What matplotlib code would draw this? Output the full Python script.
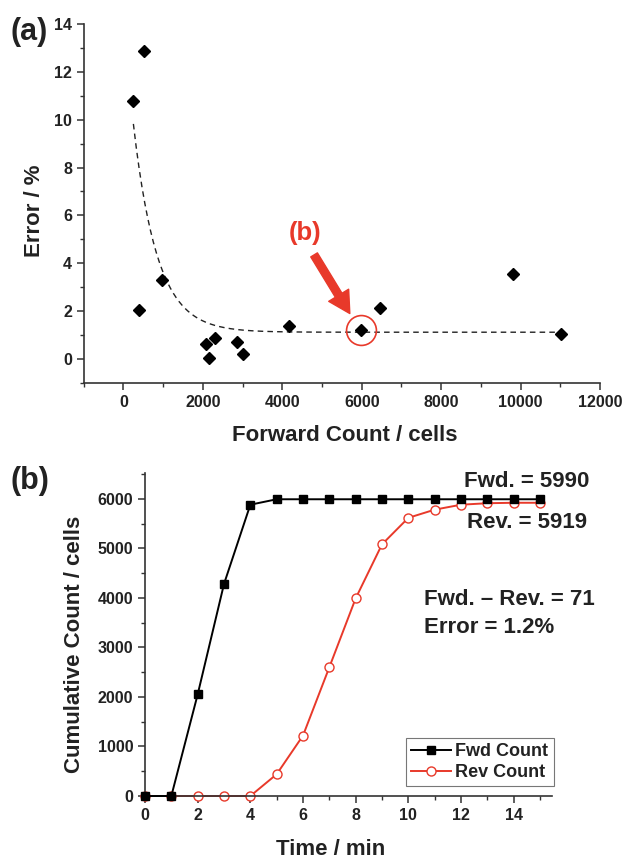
import matplotlib
matplotlib.use("Agg")
import matplotlib.pyplot as plt
import numpy as np
from matplotlib.ticker import MultipleLocator

plt.rcParams['font.family'] = ['Liberation Sans', 'DejaVu Sans']
plt.rcParams['font.weight'] = 'bold'

# (a) error vs forward count
fwd_cells = [250, 520, 400, 980, 2070, 2160, 2300, 2850, 3010, 4160, 5990, 6470, 9800, 11020]
error_pct = [10.8, 12.85, 2.05, 3.3, 0.62, 0.05, 0.88, 0.7, 0.2, 1.4, 1.2, 2.15, 3.55, 1.05]
highlight = 10  # the run shown in (b)

# exponential decay fit y = y0 + A*exp(-x/t)
fit_y0, fit_A, fit_t = 1.12, 13.2, 600.0
fit_xmin, fit_xmax = 250, 11000

# (b) cumulative counts
time_min = list(range(16))
fwd_count = [0, 0, 2050, 4280, 5880, 5990, 5990, 5990, 5990, 5990, 5990, 5990, 5990, 5990, 5990, 5990]
rev_count = [0, 0, 0, 0, 0, 440, 1220, 2600, 3990, 5080, 5615, 5780, 5880, 5910, 5919, 5919]

red = '#e8392a'
dark = '#222222'
lab_fs = 16
tick_fs = 11.5

fig = plt.figure(figsize=(6.25, 8.6), dpi=100)


def style_axes(ax):
    for s in ['top', 'right']:
        ax.spines[s].set_visible(False)
    for s in ['left', 'bottom']:
        ax.spines[s].set_color('#333333')
        ax.spines[s].set_linewidth(1.2)
    ax.tick_params(which='major', direction='out', length=5, width=1.1, labelsize=tick_fs,
                   colors='#333333', labelcolor=dark)
    ax.tick_params(which='minor', direction='out', length=3, width=1.0, colors='#333333')
    for lab in ax.get_xticklabels() + ax.get_yticklabels():
        lab.set_fontweight('bold')


# ---- panel (a)
ax1 = fig.add_axes([0.134, 0.5547, 0.826, 0.4175])
ax1.plot(fwd_cells, error_pct, 'D', color='black', ms=6, zorder=3)
xf = np.linspace(fit_xmin, fit_xmax, 300)
ax1.plot(xf, fit_y0 + fit_A * np.exp(-xf / fit_t), '--', color=dark, lw=1.0, dashes=(4, 3))
ax1.plot(fwd_cells[highlight], error_pct[highlight], 'o', mfc='none', mec=red, ms=21.5, mew=1.2)
ax1.annotate('', xy=(5700, 1.9), xytext=(4800, 4.35),
             arrowprops=dict(arrowstyle='simple,head_length=1.1,head_width=1.2,tail_width=0.4',
                             color=red, mutation_scale=14, shrinkA=0, shrinkB=0))
ax1.text(4580, 5.27, '(b)', color=red, fontsize=18.5, fontweight='bold', ha='center', va='center')

ax1.set_xlim(-1000, 12000)
ax1.set_ylim(-1, 14)
ax1.xaxis.set_minor_locator(MultipleLocator(1000))
ax1.yaxis.set_major_locator(MultipleLocator(2))
ax1.yaxis.set_minor_locator(MultipleLocator(1))
ax1.set_xticks([0, 2000, 4000, 6000, 8000, 10000, 12000])
style_axes(ax1)
ax1.set_xlabel('Forward Count / cells', fontsize=lab_fs, fontweight='bold', color=dark)
ax1.set_ylabel('Error / %', fontsize=lab_fs, fontweight='bold', color=dark)
ax1.xaxis.set_label_coords(0.506, -0.116)
ax1.yaxis.set_label_coords(-0.076, 0.48)
fig.text(0.017, 0.963, '(a)', fontsize=22, fontweight='bold', color=dark, va='center')

# ---- panel (b)
ax2 = fig.add_axes([0.232, 0.0744, 0.651, 0.3756])
ax2.plot(time_min, fwd_count, '-s', color='black', lw=1.4, ms=5.5, label='Fwd Count',
         clip_on=False, zorder=3)
ax2.plot(time_min, rev_count, '-o', color=red, lw=1.4, ms=6.5, mfc='white', mec=red,
         mew=1.0, label='Rev Count', clip_on=False, zorder=2)
ax2.set_xlim(0, 15.45)
ax2.set_ylim(0, 6520)
ax2.xaxis.set_major_locator(MultipleLocator(2))
ax2.xaxis.set_minor_locator(MultipleLocator(1))
ax2.yaxis.set_major_locator(MultipleLocator(1000))
ax2.yaxis.set_minor_locator(MultipleLocator(500))
style_axes(ax2)
ax2.set_xlabel('Time / min', fontsize=lab_fs, fontweight='bold', color=dark)
ax2.set_ylabel('Cumulative Count / cells', fontsize=lab_fs, fontweight='bold', color=dark)
ax2.xaxis.set_label_coords(0.455, -0.134)
ax2.yaxis.set_label_coords(-0.148, 0.47)

ann_fs = 16
ax2.text(1.093, 0.975, 'Fwd. = %d' % fwd_count[-1], transform=ax2.transAxes, fontsize=ann_fs,
         fontweight='bold', color=dark, ha='right', va='center')
ax2.text(1.086, 0.848, 'Rev. = %d' % rev_count[-1], transform=ax2.transAxes, fontsize=ann_fs,
         fontweight='bold', color=dark, ha='right', va='center')
diff = fwd_count[-1] - rev_count[-1]
ax2.text(0.685, 0.607, 'Fwd. \u2013 Rev. = %d' % diff, transform=ax2.transAxes, fontsize=ann_fs,
         fontweight='bold', color=dark, ha='left', va='center')
ax2.text(0.685, 0.523, 'Error = %.1f%%' % (100.0 * diff / fwd_count[-1]), transform=ax2.transAxes,
         fontsize=ann_fs, fontweight='bold', color=dark, ha='left', va='center')

leg = ax2.legend(loc='lower right', bbox_to_anchor=(1.005, 0.03), fontsize=13, frameon=True,
                 fancybox=False, edgecolor='#555555', handlelength=2.2, handletextpad=0.25,
                 borderpad=0.3, labelspacing=0.2, borderaxespad=0)
leg.get_frame().set_linewidth(0.8)
for t in leg.get_texts():
    t.set_fontweight('bold')
    t.set_color(dark)

fig.text(0.017, 0.441, '(b)', fontsize=22, fontweight='bold', color=dark, va='center')

fig.savefig('out.png', dpi=100)
